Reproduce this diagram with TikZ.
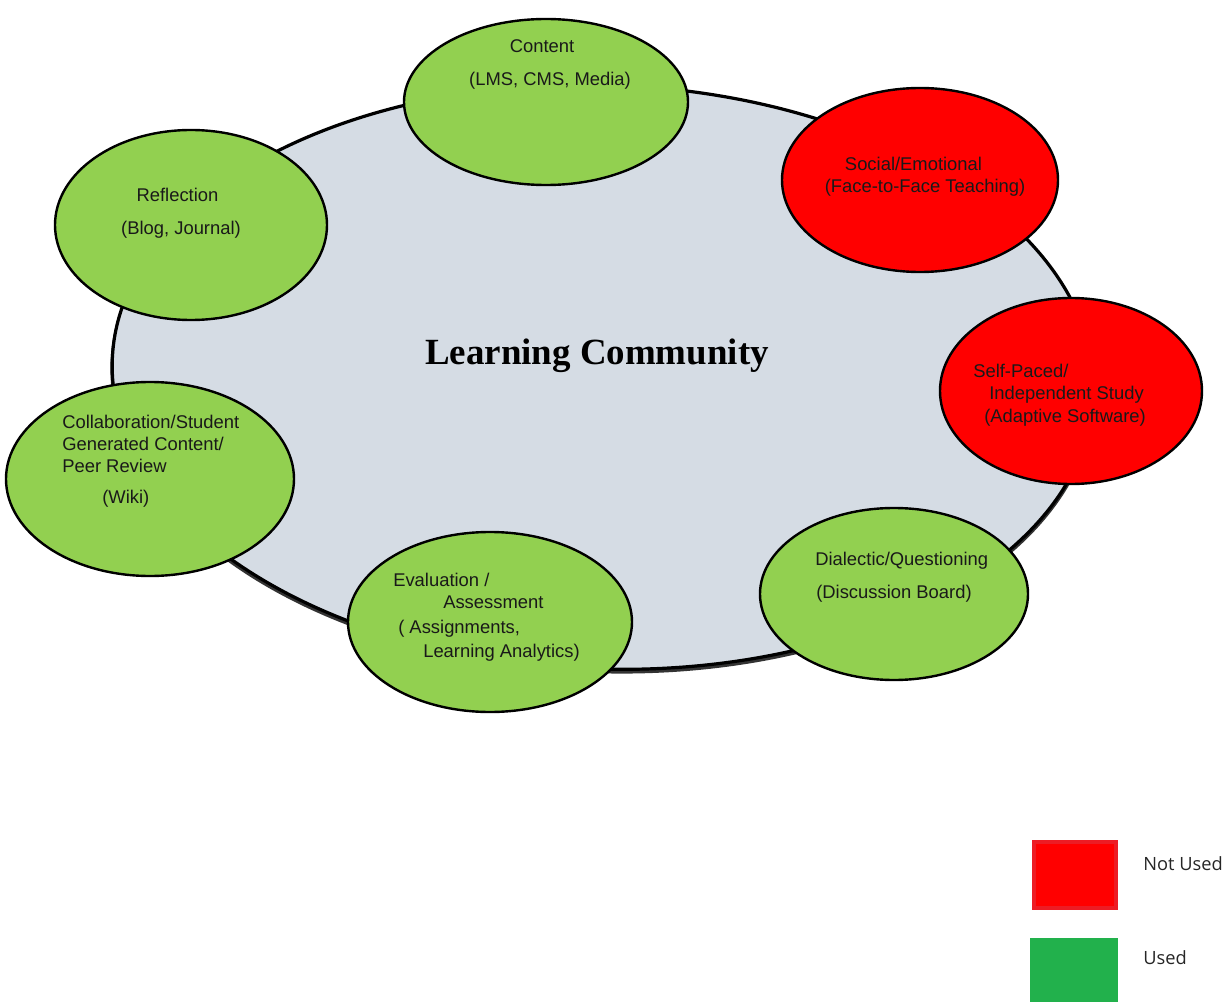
\documentclass[tikz,border=0pt]{standalone}
\usepackage{fontspec}
\setmainfont{Liberation Sans}
\newfontfamily\titlefont{Liberation Serif}
\newfontfamily\legfont{Open Sans}
\usetikzlibrary{shapes.geometric}
\definecolor{usedgreen}{HTML}{92D050}
\definecolor{notred}{HTML}{FF0000}
\definecolor{commfill}{HTML}{D5DCE4}
\definecolor{legred}{HTML}{ED1C24}
\definecolor{leggreen}{HTML}{22B14C}
\tikzset{
  blob/.style={ellipse, draw=black, line width=1.8pt, inner sep=0pt},
  usedblob/.style={blob, fill=usedgreen},
  notblob/.style={blob, fill=notred},
  lbl/.style={font=\fontsize{13.8}{16}\selectfont, inner sep=0pt, text=black!90},
  lblc/.style={lbl, anchor=mid},
  lblw/.style={lbl, anchor=mid west},
  legtext/.style={font=\legfont\fontsize{13.7}{16}\selectfont, inner sep=0pt, anchor=mid west, text=black!85},
}
\begin{document}
\begin{tikzpicture}[x=0.75pt, y=-0.75pt]
\useasboundingbox (0,0) rectangle (1225,1002);
\fill[white] (0,0) rectangle (1225,1002);
% big community ellipse: shadow then body
\draw[black!80, line width=2.6pt, rotate around={-2:(603,377)}] (603,379.5) ellipse [x radius=491, y radius=292];
\filldraw[fill=commfill, draw=black, line width=2.4pt, rotate around={-2:(603,377)}] (603,377) ellipse [x radius=491, y radius=292];
\node[font=\titlefont\bfseries\fontsize{27.7}{32}\selectfont, anchor=mid, inner sep=0pt] (title) at (597,361) {Learning Community};

% satellite ellipses
\node[usedblob, minimum width={2*142*0.75pt}, minimum height={2*83*0.75pt}] (content) at (546,102) {};
\node[notblob, minimum width={2*138*0.75pt}, minimum height={2*92*0.75pt}] (social) at (920,180) {};
\node[notblob, minimum width={2*131*0.75pt}, minimum height={2*93*0.75pt}] (self) at (1071,391) {};
\node[usedblob, minimum width={2*134*0.75pt}, minimum height={2*86*0.75pt}] (dialectic) at (894,594) {};
\node[usedblob, minimum width={2*142*0.75pt}, minimum height={2*90*0.75pt}] (eval) at (490,622) {};
\node[usedblob, minimum width={2*144*0.75pt}, minimum height={2*97*0.75pt}] (collab) at (150,479) {};
\node[usedblob, minimum width={2*136*0.75pt}, minimum height={2*95*0.75pt}] (reflect) at (191,225) {};

% labels
\node[lblc] (content1) at (542,49) {Content};
\node[lblc] (content2) at (550,82) {(LMS, CMS, Media)};

\node[lblc] (reflect1) at (177.5,198) {Reflection};
\node[lblc] (reflect2) at (181,231) {(Blog, Journal)};

\node[lblc] (social1) at (913.5,167) {Social/Emotional};
\node[lblc] (social2) at (925,189) {(Face-to-Face Teaching)};

\node[lblw] (self1) at (973,374) {Self-Paced/};
\node[lblw] (self2) at (989,396) {Independent Study};
\node[lblw] (self3) at (984,419) {(Adaptive Software)};

\node[lblw] (collab1) at (62,425) {Collaboration/Student};
\node[lblw] (collab2) at (62,447) {Generated Content/};
\node[lblw] (collab3) at (62,469) {Peer Review};
\node[lblw] (collab4) at (102,500) {(Wiki)};

\node[lblw] (eval1) at (393,583) {Evaluation /};
\node[lblw] (eval2) at (443,605) {Assessment};
\node[lblw] (eval3) at (398,630) {( Assignments,};
\node[lblw] (eval4) at (423,654) {Learning Analytics)};

\node[lblw] (dial1) at (815,562) {Dialectic/Questioning};
\node[lblw] (dial2) at (816,595) {(Discussion Board)};

% legend
\node[draw=legred, fill=notred, line width=3pt, minimum width={82*0.75pt}, minimum height={66*0.75pt}, inner sep=0pt] (legnot) at (1074.5,874.5) {};
\node[fill=leggreen, minimum width={88*0.75pt}, minimum height={64*0.75pt}, inner sep=0pt] (legused) at (1074,970) {};
\node[legtext] (legnottxt) at (1143,867) {Not Used};
\node[legtext] (legusedtxt) at (1143,961) {Used};
\end{tikzpicture}
\end{document}
